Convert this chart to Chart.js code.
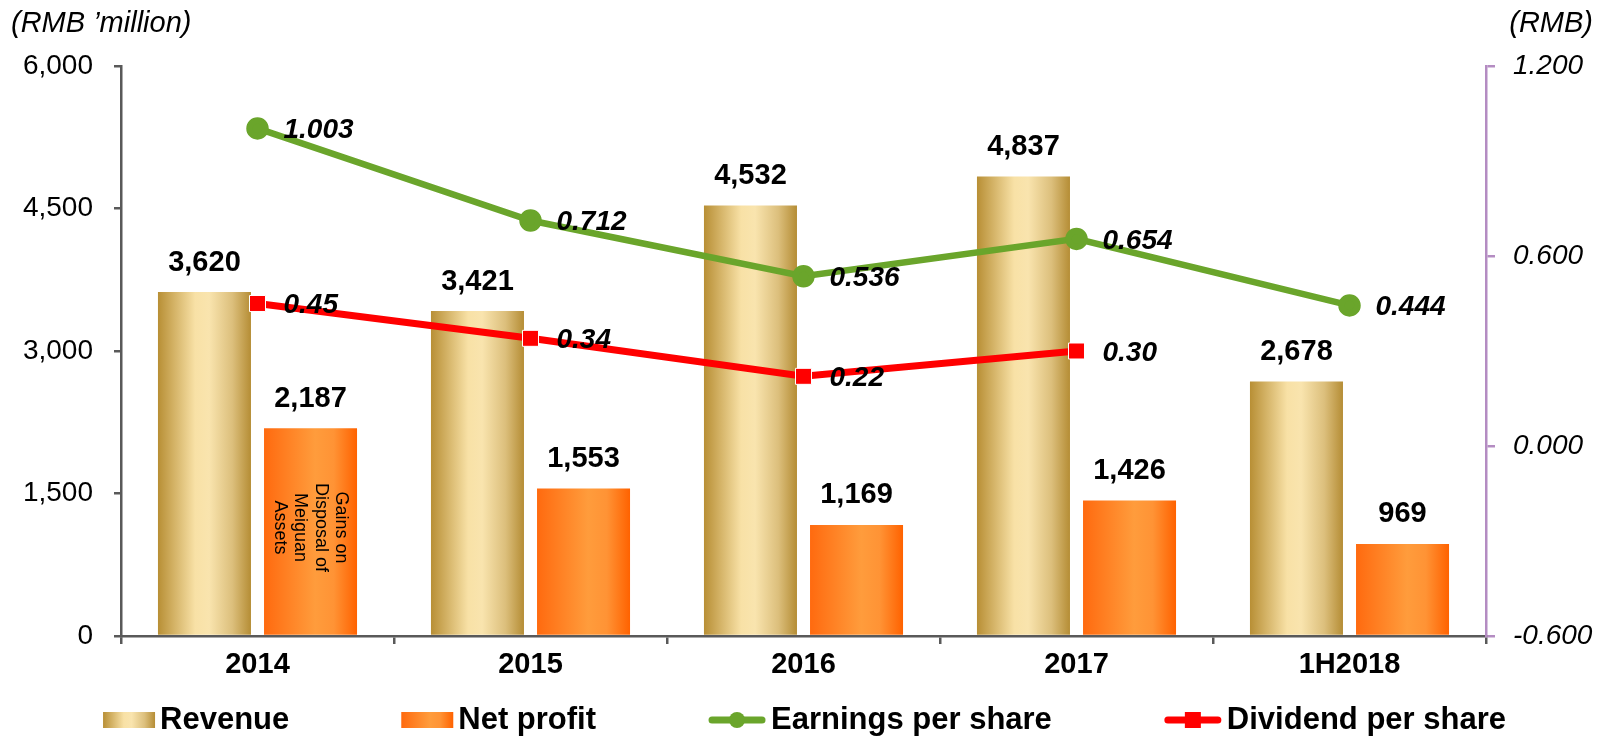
<!DOCTYPE html>
<html>
<head>
<meta charset="utf-8">
<script src="https://cdn.jsdelivr.net/npm/chart.js@4.4.1/dist/chart.umd.min.js"></script>
<style>
  html, body { margin: 0; padding: 0; background: #fff; }
  #wrap { width: 1609px; height: 739px; position: relative; }
</style>
</head>
<body>
<div id="wrap"><canvas id="rel"></canvas></div>
<script>
// dados
const categorias = ['2014', '2015', '2016', '2017', '1H2018'];
const receita = [3620, 3421, 4532, 4837, 2678];
const lucroLiq = [2187, 1553, 1169, 1426, 969];
const lpa = [1.003, 0.712, 0.536, 0.654, 0.444];
const dpa = [0.45, 0.34, 0.22, 0.30, null];
const ticksEsq = [0, 1500, 3000, 4500, 6000];
const ticksDir = [-0.6, 0, 0.6, 1.2];
const nomes = ['Revenue', 'Net profit', 'Earnings per share', 'Dividend per share'];
const notaBarra = ['Gains on', 'Disposal of', 'Meiguan', 'Assets'];

const FONTE = "'Liberation Sans', Arial, sans-serif";
const CAT_PCT = 0.777;
const BAR_PCT = 0.877;
const VERDE = '#6aa52b';
const VERMELHO = '#ff0000';

const stopsReceita = [[0, '#b88f35'], [0.4, '#f8e1a6'], [0.55, '#f9e4ae'], [0.8, '#dcbf7c'], [1, '#b58d35']];
const stopsLucro = [[0, '#ff6a0f'], [0.55, '#ff9c3c'], [0.75, '#ff9335'], [1, '#ff6200']];

function gradiente(ctx2d, x0, x1, stops) {
    const g = ctx2d.createLinearGradient(x0, 0, x1, 0);
    stops.forEach(s => g.addColorStop(s[0], s[1]));
    return g;
}

// cor da barra: gradiente horizontal calculado a partir da escala x
function corBarra(ctx, lado, stops) {
    const chart = ctx.chart;
    const xs = chart.scales.x;
    if (!xs || ctx.type !== 'data') return stops[1][1];
    const catW = xs.width / categorias.length;
    const slot = catW * CAT_PCT / 2;
    const w = slot * BAR_PCT;
    const cx = xs.getPixelForValue(ctx.dataIndex) + lado * slot / 2;
    if (!isFinite(cx) || !isFinite(w) || w <= 0) return stops[1][1];
    return gradiente(chart.ctx, cx - w / 2, cx + w / 2, stops);
}

const pluginTextos = {
    id: 'textos',
    afterDraw(chart) {
        const c = chart.ctx;
        c.save();
        c.fillStyle = '#000';

        // titulos dos eixos
        c.font = `italic 29px ${FONTE}`;
        c.textBaseline = 'middle';
        c.textAlign = 'left';
        c.fillText('(RMB \u2019million)', 11, 24);
        c.textAlign = 'right';
        c.fillText('(RMB)', 1593, 24);

        // valores acima das barras
        c.font = `bold 29px ${FONTE}`;
        c.textAlign = 'center';
        c.textBaseline = 'bottom';
        [0, 1].forEach(di => {
            const meta = chart.getDatasetMeta(di);
            meta.data.forEach((el, i) => {
                const v = chart.data.datasets[di].data[i];
                c.fillText(v.toLocaleString('en-US'), el.x, el.y - 15);
            });
        });

        // valores das linhas
        c.font = `italic bold 28px ${FONTE}`;
        c.textAlign = 'left';
        c.textBaseline = 'middle';
        [[2, 3], [3, 2]].forEach(([di, dec]) => {
            const meta = chart.getDatasetMeta(di);
            meta.data.forEach((el, i) => {
                const v = chart.data.datasets[di].data[i];
                if (v === null || v === undefined) return;
                c.fillText(v.toFixed(dec), el.x + 26, el.y + 2);
            });
        });

        // nota na barra de 2014
        const bar = chart.getDatasetMeta(1).data[0];
        c.save();
        c.translate(bar.x, (bar.y + bar.base) / 2 - 4);
        c.rotate(Math.PI / 2);
        c.font = `18px ${FONTE}`;
        c.textAlign = 'center';
        c.textBaseline = 'middle';
        notaBarra.forEach((t, i) => {
            c.fillText(t, 0, (i - (notaBarra.length - 1) / 2) * 20.5);
        });
        c.restore();

        // legenda
        c.font = `bold 31px ${FONTE}`;
        const marcas = [52, 52, 58, 58];
        const gapTxt = 5;
        const gapItem = 112;
        const larguras = nomes.map((n, i) => marcas[i] + gapTxt + c.measureText(n).width);
        const total = larguras.reduce((a, b) => a + b, 0) + gapItem * (nomes.length - 1);
        let x = (chart.width - total) / 2;
        const yl = 720;
        nomes.forEach((n, i) => {
            const m = marcas[i];
            if (i < 2) {
                c.fillStyle = gradiente(c, x, x + m, i === 0 ? stopsReceita : stopsLucro);
                c.fillRect(x, yl - 8, m, 16);
            } else {
                const cor = i === 2 ? VERDE : VERMELHO;
                c.strokeStyle = cor;
                c.lineWidth = 7;
                c.lineCap = 'round';
                c.beginPath();
                c.moveTo(x + 4, yl);
                c.lineTo(x + m - 4, yl);
                c.stroke();
                c.fillStyle = cor;
                c.beginPath();
                if (i === 2) {
                    c.arc(x + m / 2, yl, 8, 0, Math.PI * 2);
                } else {
                    c.rect(x + m / 2 - 8, yl - 8, 16, 16);
                }
                c.fill();
            }
            c.fillStyle = '#000';
            c.textAlign = 'left';
            c.textBaseline = 'middle';
            c.fillText(n, x + m + gapTxt, yl);
            x += larguras[i] + gapItem;
        });

        c.restore();
    }
};

Chart.defaults.font.family = FONTE;
Chart.defaults.color = '#000';

const grafico = new Chart(document.getElementById('rel'), {
    type: 'bar',
    data: {
        labels: categorias,
        datasets: [
            {
                label: nomes[0],
                data: receita,
                backgroundColor: ctx => corBarra(ctx, -1, stopsReceita),
                categoryPercentage: CAT_PCT,
                barPercentage: BAR_PCT,
                yAxisID: 'y',
                order: 5,
            },
            {
                label: nomes[1],
                data: lucroLiq,
                backgroundColor: ctx => corBarra(ctx, 1, stopsLucro),
                categoryPercentage: CAT_PCT,
                barPercentage: BAR_PCT,
                yAxisID: 'y',
                order: 5,
            },
            {
                type: 'line',
                label: nomes[2],
                data: lpa,
                borderColor: VERDE,
                backgroundColor: VERDE,
                borderWidth: 6.5,
                pointStyle: 'circle',
                pointRadius: 8,
                pointBorderColor: VERDE,
                pointBackgroundColor: VERDE,
                yAxisID: 'y1',
                order: 1,
            },
            {
                type: 'line',
                label: nomes[3],
                data: dpa,
                borderColor: VERMELHO,
                backgroundColor: VERMELHO,
                borderWidth: 7,
                pointStyle: 'rect',
                pointRadius: 11.3,
                pointBorderColor: '#ffffff',
                pointBorderWidth: 1,
                pointBackgroundColor: VERMELHO,
                yAxisID: 'y1',
                order: 0,
            },
        ],
    },
    options: {
        responsive: true,
        maintainAspectRatio: false,
        devicePixelRatio: 1,
        animation: false,
        layout: { padding: { top: 66, bottom: 55, left: 0, right: 0 } },
        plugins: {
            legend: { display: false },
            tooltip: { enabled: false },
        },
        scales: {
            x: {
                offset: true,
                grid: { drawOnChartArea: false, offset: true, tickLength: 8, color: '#595959', lineWidth: 2.5 },
                border: { color: '#595959', width: 2.5 },
                ticks: { font: { size: 29, weight: 'bold' }, padding: 4 },
                afterFit: s => { s.height = 48; },
            },
            y: {
                position: 'left',
                min: ticksEsq[0],
                max: ticksEsq[ticksEsq.length - 1],
                grid: { drawOnChartArea: false, tickLength: 7, color: '#595959', lineWidth: 2.5 },
                border: { color: '#595959', width: 2.5 },
                ticks: {
                    stepSize: ticksEsq[1] - ticksEsq[0],
                    font: { size: 28 },
                    padding: 21,
                    callback: v => v.toLocaleString('en-US'),
                },
                afterFit: s => { s.width = 121; },
            },
            y1: {
                position: 'right',
                min: ticksDir[0],
                max: ticksDir[ticksDir.length - 1],
                grid: { drawOnChartArea: false, tickLength: 9, color: '#b48cc2', lineWidth: 2.5 },
                border: { color: '#b48cc2', width: 2.5 },
                ticks: {
                    stepSize: ticksDir[1] - ticksDir[0],
                    font: { size: 28, style: 'italic' },
                    padding: 18,
                    callback: v => Number(v).toFixed(3),
                },
                afterFit: s => { s.width = 123; },
            },
        },
    },
    plugins: [pluginTextos],
});
</script>
</body>
</html>
